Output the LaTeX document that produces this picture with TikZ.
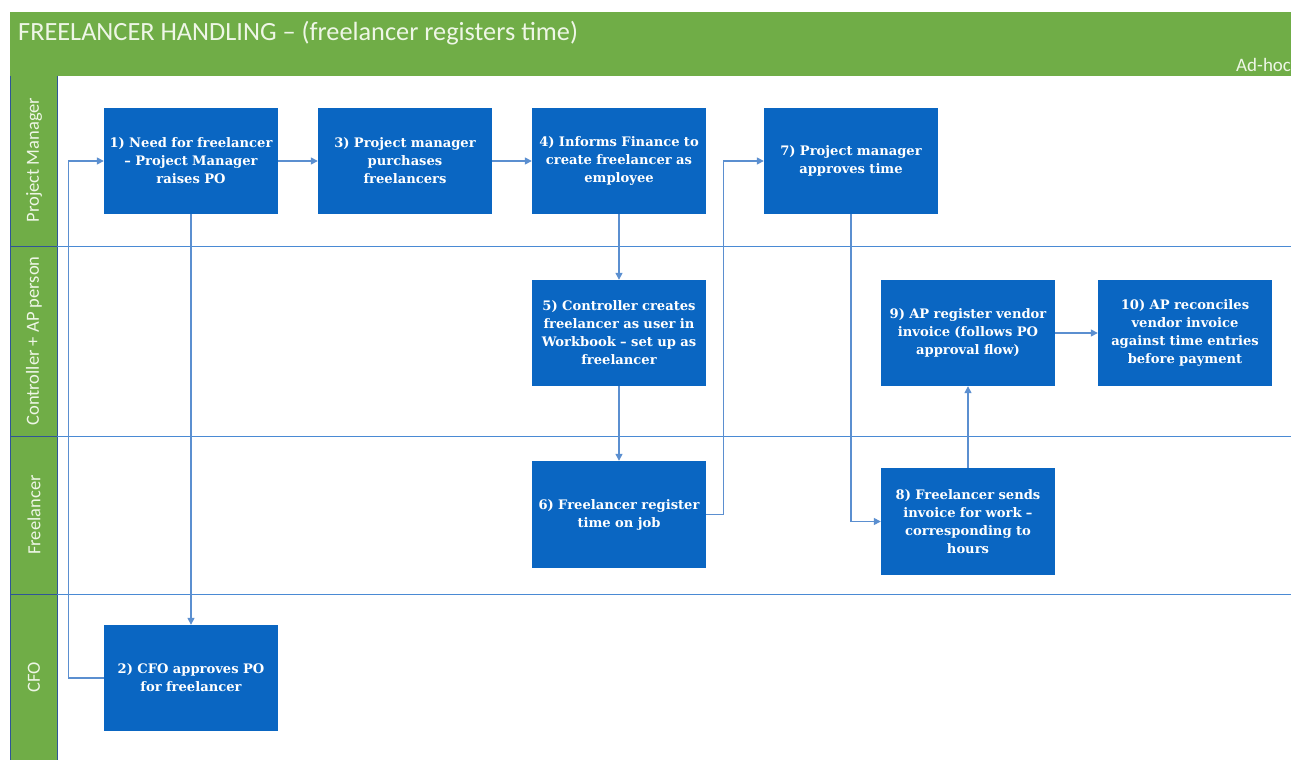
\documentclass[tikz,border=0pt]{standalone}
\usepackage{fontspec}
\setmainfont{DejaVu Serif}
\newfontfamily\hdrfont{Carlito}
\usetikzlibrary{arrows.meta}
\definecolor{lanegreen}{HTML}{70AD47}
\definecolor{stepblue}{HTML}{0A66C2}
\definecolor{flowline}{HTML}{5B8FD0}
\definecolor{sepline}{HTML}{4A8AD4}
\definecolor{laneedge}{HTML}{2F5597}
\definecolor{hdrtext}{HTML}{EEF6E6}

\begin{document}
\begin{tikzpicture}[x=1pt,y=-1pt,
  stepbox/.style={fill=stepblue, minimum width=174pt, minimum height=106pt,
    text width=172pt, align=center, text=white, inner sep=0pt,
    font=\bfseries\fontsize{13.1}{18}\selectfont},
  flow/.style={draw=flowline, line width=1.3pt,
    -{Triangle[length=7pt,width=7pt]}},
  lanesep/.style={draw=sepline, line width=1pt},
  lanelabel/.style={rotate=90, text=hdrtext, font=\hdrfont\fontsize{18.5}{20}\selectfont},
]
\useasboundingbox (0,0) rectangle (1291,760);
\clip (0,0) rectangle (1291,760);

% header band
\fill[lanegreen] (10,12) rectangle (1300,76);
\node[anchor=base west, text=hdrtext, font=\hdrfont\fontsize{26.3}{29}\selectfont, inner sep=0pt]
  (title) at (18,41) {FREELANCER HANDLING – (freelancer registers time)};
\node[anchor=base west, text=hdrtext, font=\hdrfont\fontsize{19}{22}\selectfont, inner sep=0pt]
  (adhoc) at (1236,71) {Ad-hoc};

% lane title column
\fill[lanegreen] (10,76) rectangle (57,770);
\draw[laneedge, line width=1pt] (10.5,76) -- (10.5,770) (57,76) -- (57,770);

% lane separators
\draw[lanesep] (10,246) -- (1300,246);
\draw[lanesep] (10,436) -- (1300,436);
\draw[lanesep] (10,594) -- (1300,594);
\draw[laneedge, line width=1pt] (10,246) -- (57,246) (10,436) -- (57,436) (10,594) -- (57,594);

% lane titles
\node[lanelabel] (lpm) at (34,160) {Project Manager};
\node[lanelabel] (lctl) at (34,341) {Controller + AP person};
\node[lanelabel] (lfl) at (34,515) {Freelancer};
\node[lanelabel] (lcfo) at (34,677) {CFO};

% process steps
\node[stepbox] (s1) at (191,161) {1) Need for freelancer\\ – Project Manager\\ raises PO};
\node[stepbox] (s3) at (405,161) {3) Project manager\\ purchases\\ freelancers};
\node[stepbox] (s4) at (619,161) {4) Informs Finance to\\ create freelancer as\\ employee};
\node[stepbox] (s7) at (851,161) {7) Project manager\\ approves time};
\node[stepbox] (s5) at (619,333) {5) Controller creates\\ freelancer as user in\\ Workbook – set up as\\ freelancer};
\node[stepbox] (s9) at (968,333) {9) AP register vendor\\ invoice (follows PO\\ approval flow)};
\node[stepbox] (s10) at (1185,333) {10) AP reconciles\\ vendor invoice\\ against time entries\\ before payment};
\node[stepbox, minimum height=107pt] (s6) at (619,514.5) {6) Freelancer register\\ time on job};
\node[stepbox, minimum height=107pt] (s8) at (968,521.5) {8) Freelancer sends\\ invoice for work –\\ corresponding to\\ hours};
\node[stepbox] (s2) at (191,678) {2) CFO approves PO\\ for freelancer};

% connectors
\draw[flow] (s1) -- (s3);
\draw[flow] (s3) -- (s4);
\draw[flow] (s1) -- (s2);
\draw[flow] (s2.west) -- ++(-35,0) |- (s1.west);
\draw[flow] (s4) -- (s5);
\draw[flow] (s5) -- (s6);
\draw[flow] (s6.east) -- ++(17,0) |- (s7.west);
\draw[flow] (s7.south) |- (s8.west);
\draw[flow] (s8) -- (s9);
\draw[flow] (s9) -- (s10);
\end{tikzpicture}
\end{document}
